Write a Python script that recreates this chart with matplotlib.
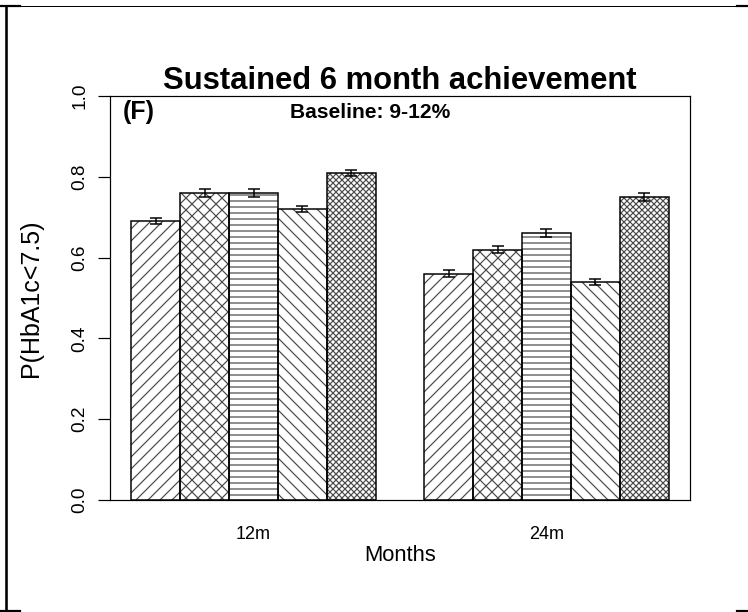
import numpy as np
import matplotlib
matplotlib.use("Agg")
from matplotlib import pyplot as plt
from matplotlib.lines import Line2D

# data
months = ["12m", "24m"]
p_12m = [0.69, 0.76, 0.76, 0.72, 0.81]
p_24m = [0.56, 0.62, 0.66, 0.54, 0.75]
err_12m = [0.008, 0.010, 0.010, 0.008, 0.008]
err_24m = [0.009, 0.009, 0.010, 0.008, 0.009]
hatches = ["//", "xx", "--", "\\\\", "xxxx"]
y_ticks = [0.0, 0.2, 0.4, 0.6, 0.8, 1.0]

plt.rcParams["font.family"] = ["Liberation Sans", "DejaVu Sans"]
plt.rcParams["hatch.linewidth"] = 1.2

W, H, DPI = 748, 612, 72
fig = plt.figure(figsize=(W / DPI, H / DPI), dpi=DPI)
ax = fig.add_axes([110 / W, 1 - 500 / H, 580 / W, 404 / H])

n_bars = len(p_12m)
for g, (vals, errs) in enumerate([(p_12m, err_12m), (p_24m, err_24m)]):
    x = 1.5 + (n_bars + 1) * g + np.arange(n_bars)
    for xi, v, h in zip(x, vals, hatches):
        ax.bar(xi, v, width=1.0, color="white", edgecolor="#4a4a4a",
               hatch=h, linewidth=0)
    ax.bar(x, vals, width=1.0, color="none", edgecolor="black", linewidth=1.5)
    ax.errorbar(x, vals, yerr=errs, fmt="none", ecolor="black",
                elinewidth=1.5, capsize=6, capthick=1.5)

ax.set_xlim(0.56, 12.44)
ax.set_ylim(0, 1)
ax.set_xticks([1 + n_bars / 2, 1 + (n_bars + 1) + n_bars / 2])
ax.set_xticklabels(months, fontsize=18)
ax.tick_params(axis="x", length=0, pad=26)
ax.set_yticks(y_ticks)
ax.set_yticklabels([f"{t:.1f}" for t in y_ticks], fontsize=19,
                   rotation=90, va="center")
ax.tick_params(axis="y", length=12, width=1.2, pad=10)
for s in ax.spines.values():
    s.set_linewidth(1.2)

ax.set_xlabel("Months", fontsize=22, labelpad=2)
ax.set_ylabel("P(HbA1c<7.5)", fontsize=25, labelpad=28)
ax.set_title("Sustained 6 month achievement", fontsize=31,
             fontweight="bold", pad=3)
ax.text(0.022, 0.99, "(F)", transform=ax.transAxes, fontsize=25,
        fontweight="bold", va="top", ha="left")
ax.text(0.448, 0.958, "Baseline: 9-12%", transform=ax.transAxes,
        fontsize=21, fontweight="bold", va="center", ha="center")

# page frame around the panel
def px_line(x0, x1, y0, y1, lw):
    fig.add_artist(Line2D([x0 / W, x1 / W], [1 - y0 / H, 1 - y1 / H],
                          transform=fig.transFigure, color="black", lw=lw))

px_line(0, W, 6, 6, 1.0)
px_line(0, 20, 6, 6, 2.2)
px_line(737, W, 6, 6, 2.2)
px_line(5.5, 5.5, 6, H, 2.6)
px_line(0, 20, 611, 611, 2.2)
px_line(737, W, 611, 611, 2.2)

fig.savefig("out.png", dpi=DPI)
